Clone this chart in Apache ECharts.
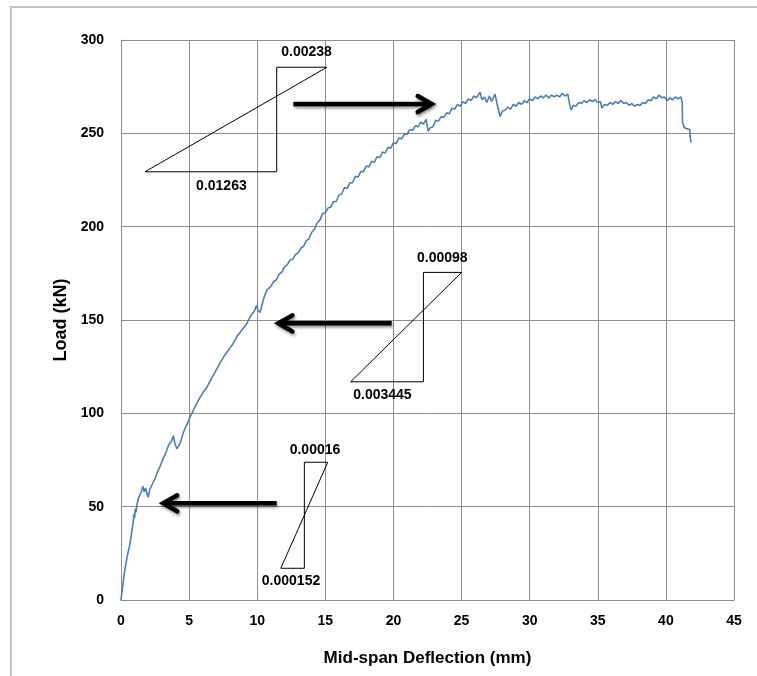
<!DOCTYPE html>
<html>
<head>
<meta charset="utf-8">
<style>html,body{margin:0;padding:0;background:#fff;}#c{width:757px;height:676px;}</style>
<script src="https://cdn.jsdelivr.net/npm/echarts@6/dist/echarts.min.js"></script>
</head>
<body>
<div id="c"></div>
<script>
// Mid-span deflection (mm)
const deflection = [
0,0.1,0.2,0.3,0.4,0.5,0.6,0.7,0.8,0.9,0.95,1.0,1.05,1.1,1.2,1.3,1.4,1.5,1.6,1.7,1.8,1.9,2.0,2.1,2.3,2.5,2.7,2.9,3.1,3.3,3.5,3.7,3.85,3.95,4.1,4.2,4.35,4.5,4.7,4.9,5.07,5.2,5.4,5.68,6.0,6.3,6.6,6.9,7.27,7.6,7.9,8.2,8.5,8.8,9.23,9.5,9.8,9.96,10.05,10.2,10.35,10.5,10.7,
10.8,11.0,11.2,11.4,11.6,11.8,12.0,12.2,12.4,12.6,12.8,13.0,13.2,13.4,13.6,13.8,14.0,14.2,14.4,14.6,14.8,15.0,15.2,15.4,15.6,15.8,16.0,16.2,16.4,16.6,16.8,17.0,17.2,17.4,17.6,17.8,18.0,18.2,18.4,18.6,18.8,19.0,19.2,19.4,19.6,19.8,20.0,20.2,20.4,20.6,20.8,21.0,21.2,21.4,21.6,21.8,22.0,22.2,22.4,22.55,22.7,22.9,23.1,23.3,23.5,23.7,23.9,24.1,24.3,24.5,24.7,24.9,25.1,25.3,25.5,25.7,25.9,26.1,26.36,26.5,26.7,26.85,27.05,27.2,27.46,27.6,27.83,
28.0,28.2,28.4,28.6,28.8,29.0,29.2,29.4,29.6,29.8,30.0,30.2,30.4,30.6,30.8,31.0,31.2,31.4,31.6,31.8,32.0,32.2,32.4,32.6,32.8,32.95,33.05,33.2,33.4,33.6,33.8,34.0,34.2,34.4,34.6,34.8,35.0,35.2,35.3,35.5,35.7,35.9,36.1,36.3,36.5,36.7,36.9,37.1,37.3,37.5,37.7,37.9,38.1,38.3,38.5,38.7,38.9,39.1,39.3,39.5,39.7,39.9,40.1,40.3,40.5,40.7,40.9,41.1,41.2,41.22,41.35,41.55,41.75,41.8,41.85
];
// Load (kN)
const load = [
0,6,12,17,21,25,28,32,37,42,46,44,49,47,52,55,54,58,61,58,60,57,55,59,62,65,69,72,76,79,83,85,88,84,81,80,84,88,92,95,98,100,103,107,111,114,118,122,127,131,134,137,141,144,148,152,155,158,155,154,158,162,166,
167,168,170.5,171.5,174.5,175.5,178.5,179.5,182,182.5,185,186,188.5,189.5,192.5,193.5,197,198.5,202,203.5,207,207.5,210,210.5,213.5,213.5,217,217.5,221,220.5,223.5,223.5,227,226.5,229.5,229.5,232.5,232,235,234.5,237.5,237,240,239.5,242.5,242,245,244.5,247.5,247,249.5,249.5,252,251.5,254,253.5,256,255,257.5,251,253,253.5,257,256.5,259,258.5,261,260.5,263.5,263,265.5,264.5,267,266,268.5,267.5,270,269,272,268,269.5,266.5,270,267,271,266,259,
262,262.5,264,263,265.5,264.5,266.5,265.5,267.5,266.5,268.5,267.5,269.5,268.5,270,269,270.5,269,270.5,269.5,270.5,269.5,271.5,270,271,265,262.5,265,264.5,266.5,266,267.5,266.5,268,267,268,266.5,267,263.5,265.5,265,266.5,265.5,267,266,267.5,266,266.5,265,266,264.5,265.5,265,266.5,266,268,267.5,269.5,268.5,270.5,269,269.5,267.5,269,268,269.5,268.5,269.5,266.5,256,253,252.5,252,247,245
];

const xTicks = {min: 0, max: 45, interval: 5};
const yTicks = {min: 0, max: 300, interval: 50};

// annotation triangles: bottom-left, bottom-right, top of vertical, top-far (data coords)
const tri1 = [[1.76,229.4],[11.43,229.4],[11.43,285.4],[15.12,285.4],[1.76,229.4]];
const tri2 = [[16.86,116.9],[22.2,116.9],[22.2,175.5],[25.01,175.5],[16.86,116.9]];
const tri3 = [[11.73,17.0],[13.46,17.0],[13.46,73.8],[15.18,73.8],[11.73,17.0]];

// arrows: [start, tip] in data coords
const arrow1 = [[12.65,265.7],[22.81,265.7]];
const arrow2 = [[19.87,148.2],[11.55,148.2]];
const arrow3 = [[11.43,51.8],[3.1,51.8]];

// annotation texts and positions
const noteTexts = ['0.00238','0.01263','0.00098','0.003445','0.00016','0.000152'];
const notePos = [[13.62,293.6],[7.37,221.8],[23.59,183.0],[19.19,109.8],[14.24,80.4],[12.48,10.2]];

const chart = echarts.init(document.getElementById('c'), null, {renderer:'canvas'});
const gridColor = '#8e8e8e';
const tickFont = {fontFamily:'Liberation Sans, Arial, sans-serif', fontWeight:'bold', fontSize:14, color:'#000'};

const triSeries = [tri1, tri2, tri3].map(t => ({
  type:'line', data:t, symbol:'none', silent:true, animation:false,
  lineStyle:{color:'#000', width:1}, z:3
}));

chart.setOption({
  animation:false,
  backgroundColor:'#fff',
  grid:{left:121, right:23, top:40, bottom:76, outerBoundsMode:'none', containLabel:false},
  xAxis:{
    type:'value', min:xTicks.min, max:xTicks.max, interval:xTicks.interval,
    name:'Mid-span Deflection (mm)', nameLocation:'middle', nameGap:50,
    nameTextStyle:{fontFamily:'Liberation Sans, Arial, sans-serif', fontWeight:'bold', fontSize:17, color:'#000'},
    axisLine:{show:true, lineStyle:{color:gridColor, width:1}},
    axisTick:{show:false},
    axisLabel:Object.assign({margin:14}, tickFont),
    splitLine:{show:true, lineStyle:{color:gridColor, width:1}}
  },
  yAxis:{
    type:'value', min:yTicks.min, max:yTicks.max, interval:yTicks.interval,
    name:'Load (kN)', nameLocation:'middle', nameGap:50, nameRotate:90,
    nameTextStyle:{fontFamily:'Liberation Sans, Arial, sans-serif', fontWeight:'bold', fontSize:18, color:'#000'},
    axisLine:{show:true, lineStyle:{color:gridColor, width:1}},
    axisTick:{show:false},
    axisLabel:Object.assign({margin:17}, tickFont),
    splitLine:{show:true, lineStyle:{color:gridColor, width:1}}
  },
  series:[{
    type:'line', data:deflection.map((d,i)=>[d, load[i]]),
    symbol:'none', lineStyle:{color:'#4a7ebb', width:1.6}, z:4
  }].concat(triSeries)
});

function px(p){ return chart.convertToPixel({gridIndex:0}, p); }
const graphics = [];
graphics.push({type:'rect', shape:{x:11, y:7, width:800, height:720}, style:{fill:'none', stroke:'#c4c4c4', lineWidth:2}, silent:true, z:0});
[arrow1, arrow2, arrow3].forEach(a => {
  const s = px(a[0]), t = px(a[1]);
  const dir = Math.sign(t[0] - s[0]);
  const shadow = {shadowBlur:3, shadowColor:'rgba(0,0,0,0.45)', shadowOffsetX:1, shadowOffsetY:2};
  graphics.push({type:'polyline', shape:{points:[s, [t[0]-dir*2, t[1]]]}, style:Object.assign({stroke:'#000', lineWidth:4.5, fill:null}, shadow), z:10, silent:true});
  graphics.push({type:'polyline', shape:{points:[[t[0]-dir*14, t[1]-8],[t[0], t[1]],[t[0]-dir*14, t[1]+8]]}, style:Object.assign({stroke:'#000', lineWidth:4.5, fill:null, lineJoin:'miter', lineCap:'round'}, shadow), z:10, silent:true});
});
noteTexts.forEach((txt, i) => {
  const p = px(notePos[i]);
  graphics.push({type:'text', x:p[0], y:p[1], style:{text:txt, align:'center', verticalAlign:'middle', font:'bold 14px "Liberation Sans", Arial, sans-serif', fill:'#000'}, z:11, silent:true});
});
chart.setOption({graphic:graphics});
</script>
</body>
</html>
